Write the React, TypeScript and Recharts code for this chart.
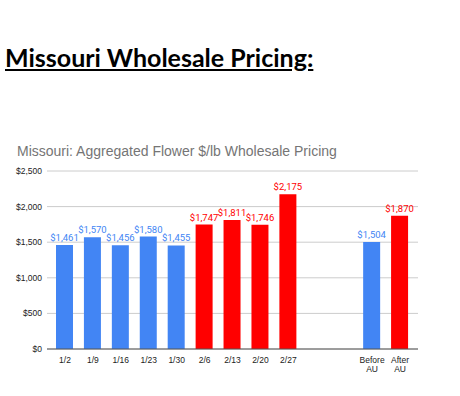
import { Bar, BarChart, CartesianGrid, LabelList, XAxis, YAxis } from "recharts"

const weeks = ["1/2", "1/9", "1/16", "1/23", "1/30", "2/6", "2/13", "2/20", "2/27", "", " ", "Before AU", "After AU"]
const prices = [1461, 1570, 1456, 1580, 1455, 1747, 1811, 1746, 2175, null, null, 1504, 1870]
const afterAU = [false, false, false, false, false, true, true, true, true, false, false, false, true]
const yTicks = [0, 500, 1000, 1500, 2000, 2500]

const BLUE = "#4285f4"
const RED = "#ff0000"

// split into two stacked series so each bar gets its own colour and label colour
const data = weeks.map((week, i) => ({
  week,
  before: afterAU[i] ? null : prices[i],
  after: afterAU[i] ? prices[i] : null,
}))

const money = (v: number) => "$" + v.toLocaleString("en-US")

function WeekTick(props: any) {
  const { x, y, payload } = props
  const lines = String(payload.value).trim().split(" ")
  return (
    <text x={x} y={y} textAnchor="middle" fontSize={8.5} fill="#222" fontFamily="Liberation Sans">
      {lines.map((l, i) => (
        <tspan key={i} x={x} dy={i === 0 ? 6 : 8.5}>
          {l}
        </tspan>
      ))}
    </text>
  )
}

const labelProps = { position: "top" as const, offset: 4, fontSize: 9.5, fontFamily: "Roboto", formatter: (v: any) => (v == null ? "" : money(v)) }

export default function App() {
  return (
    <div style={{ position: "absolute", left: 0, top: 0, width: 460, height: 396, background: "#fff" }}>
      <div
        style={{
          position: "absolute",
          left: 5,
          top: 42,
          fontFamily: "Lato",
          fontWeight: 700,
          fontSize: 25,
          textDecoration: "underline",
          color: "#000",
          whiteSpace: "nowrap",
        }}
      >
        Missouri Wholesale Pricing:
      </div>
      <div
        style={{
          position: "absolute",
          left: 17,
          top: 143,
          fontFamily: "Liberation Sans",
          fontSize: 14,
          color: "#757575",
          whiteSpace: "nowrap",
        }}
      >
        Missouri: Aggregated Flower $/lb Wholesale Pricing
      </div>
      <div style={{ position: "absolute", left: 0, top: 0 }}>
        <BarChart width={460} height={396} data={data} margin={{ top: 171, right: 42, bottom: 17, left: 0 }} barSize={17}>
          <CartesianGrid vertical={false} stroke="#cccccc" />
          <XAxis
            dataKey="week"
            height={30}
            interval={0}
            tickLine={false}
            axisLine={{ stroke: "#555" }}
            tick={<WeekTick />}
            padding={{ left: 4, right: 4 }}
          />
          <YAxis
            width={47}
            domain={[0, 2500]}
            ticks={yTicks}
            tickFormatter={money}
            tickLine={false}
            axisLine={false}
            tickSize={0}
            tickMargin={5}
            tick={{ fontSize: 8.5, fill: "#222", fontFamily: "Liberation Sans" }}
          />
          <Bar dataKey="before" stackId="a" fill={BLUE} isAnimationActive={false}>
            <LabelList dataKey="before" fill={BLUE} {...labelProps} />
          </Bar>
          <Bar dataKey="after" stackId="a" fill={RED} isAnimationActive={false}>
            <LabelList dataKey="after" fill={RED} {...labelProps} />
          </Bar>
        </BarChart>
      </div>
    </div>
  )
}
